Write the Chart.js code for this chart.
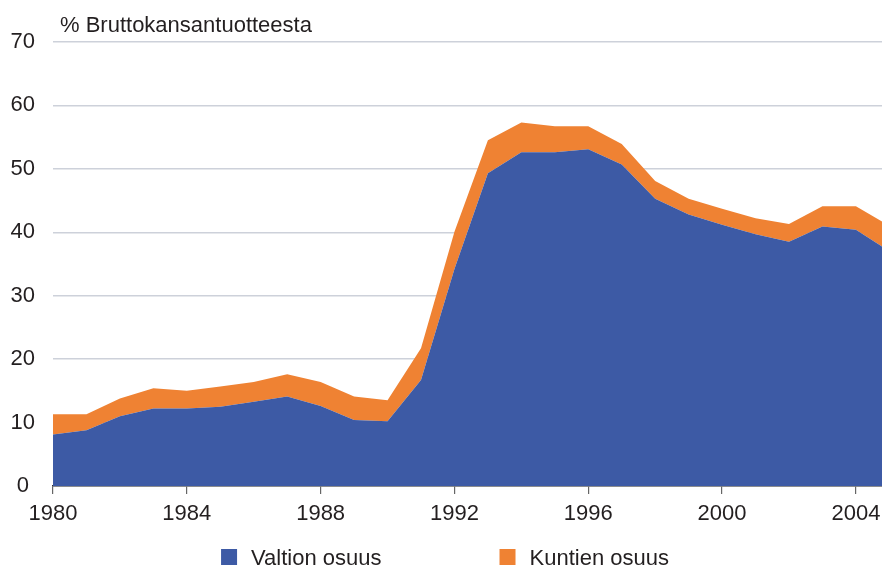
<!DOCTYPE html>
<html>
<head>
<meta charset="utf-8">
<script src="https://cdn.jsdelivr.net/npm/chart.js@4/dist/chart.umd.min.js"></script>
<style>
  body { margin: 0; background: #fff; }
</style>
</head>
<body>
<canvas id="chart" width="882" height="568"></canvas>
<script>
// Julkisen velan osuus bruttokansantuotteesta, %
const years = [1980, 1981, 1982, 1983, 1984, 1985, 1986, 1987, 1988, 1989, 1990, 1991, 1992,
  1993, 1994, 1995, 1996, 1997, 1998, 1999, 2000, 2001, 2002, 2003, 2004, 2005];
const valtion = [8.1, 8.8, 11.0, 12.2, 12.2, 12.5, 13.3, 14.1, 12.6, 10.4, 10.2, 16.7, 34.2,
  49.3, 52.6, 52.6, 53.1, 50.7, 45.3, 42.8, 41.2, 39.7, 38.5, 40.9, 40.4, 37.0];
const kuntien = [3.2, 2.5, 2.8, 3.2, 2.8, 3.2, 3.1, 3.5, 3.8, 3.7, 3.3, 5.0, 5.9,
  5.2, 4.7, 4.1, 3.6, 3.2, 2.8, 2.5, 2.5, 2.5, 2.8, 3.2, 3.7, 4.0];
const seriesNames = ['Valtion osuus', 'Kuntien osuus'];
const yTicks = [0, 10, 20, 30, 40, 50, 60, 70];
const xTicks = [1980, 1984, 1988, 1992, 1996, 2000, 2004];
const unitLabel = '% Bruttokansantuotteesta';

const FONT = '"Liberation Sans", Arial, sans-serif';
const FONT_SIZE = 22;
const TEXT = '#231f20';
const BLUE = '#3d5aa5';
const ORANGE = '#ef8233';

const toPoints = (vals) => years.map((yr, i) => ({ x: yr, y: vals[i] }));

// otsikko ja selite piirretään itse
const extras = {
  id: 'extras',
  afterDraw(chart) {
    const ctx = chart.ctx;
    ctx.save();
    ctx.fillStyle = TEXT;
    ctx.font = FONT_SIZE + 'px ' + FONT;
    ctx.textBaseline = 'alphabetic';
    ctx.textAlign = 'left';
    ctx.fillText(unitLabel, chart.chartArea.left + 7, 32);

    // selite
    const box = 16, gapText = 14, gapItem = 118;
    const items = chart.data.datasets.map(ds => ({
      text: ds.label, color: ds.backgroundColor,
      w: box + gapText + ctx.measureText(ds.label).width
    }));
    const total = items.reduce((s, it) => s + it.w, 0) + gapItem * (items.length - 1);
    let x = chart.width / 2 + 4 - total / 2;
    items.forEach(it => {
      ctx.fillStyle = it.color;
      ctx.fillRect(x, 549, box, box);
      ctx.fillStyle = TEXT;
      ctx.fillText(it.text, x + box + gapText, 565);
      x += it.w + gapItem;
    });
    ctx.restore();
  }
};

new Chart(document.getElementById('chart'), {
  type: 'line',
  data: {
    datasets: [
      {
        label: seriesNames[0],
        data: toPoints(valtion),
        backgroundColor: BLUE,
        borderWidth: 0,
        pointRadius: 0,
        fill: 'origin',
      },
      {
        label: seriesNames[1],
        data: toPoints(kuntien),
        backgroundColor: ORANGE,
        borderWidth: 0,
        pointRadius: 0,
        fill: '-1',
      },
    ],
  },
  options: {
    responsive: false,
    animation: false,
    layout: { padding: { top: 42, left: 0, right: 0, bottom: 0 } },
    plugins: {
      legend: { display: false },
      tooltip: { enabled: false },
    },
    elements: { line: { tension: 0 } },
    scales: {
      x: {
        type: 'linear',
        min: 1980,
        max: 2004.78,
        z: 1,
        grid: { drawOnChartArea: false, drawTicks: true, tickLength: 8, color: '#666', lineWidth: 1.2 },
        border: { display: true, color: '#333', width: 1.5 },
        afterBuildTicks(scale) {
          scale.ticks = xTicks.map(v => ({ value: v }));
        },
        ticks: {
          padding: 7,
          color: TEXT,
          font: { family: FONT, size: FONT_SIZE },
          maxRotation: 0,
          autoSkip: false,
          callback: (v) => String(v),
        },
        afterFit(scale) {
          scale.height = 82;
          scale.paddingLeft = 0;
          scale.paddingRight = 0;
        },
      },
      y: {
        stacked: true,
        min: 0,
        max: 70,
        grid: { drawTicks: false, color: '#cdd1da', lineWidth: 1.4 },
        border: { display: false },
        afterBuildTicks(scale) {
          scale.ticks = yTicks.map(v => ({ value: v }));
        },
        ticks: {
          crossAlign: 'center',
          padding: 18,
          color: TEXT,
          font: { family: FONT, size: FONT_SIZE },
        },
        afterFit(scale) {
          scale.width = 53;
          scale.paddingTop = 0;
          scale.paddingBottom = 0;
        },
      },
    },
  },
  plugins: [extras],
});
</script>
</body>
</html>
